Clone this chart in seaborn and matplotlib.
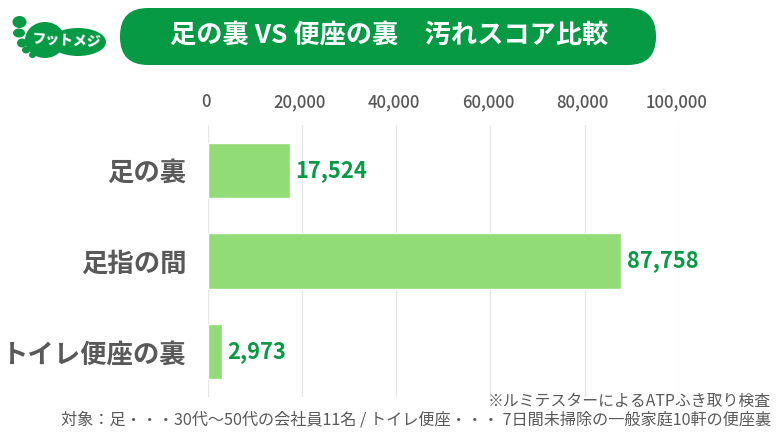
"""足の裏 VS 便座の裏 bar chart, saved to out.png"""
import matplotlib

matplotlib.use("Agg")
import matplotlib.pyplot as plt
from matplotlib.patches import Ellipse, FancyBboxPatch
from matplotlib.transforms import ScaledTranslation
import pandas as pd
import seaborn as sns

categories = ["足の裏", "足指の間", "トイレ便座の裏"]
scores = [17524, 87758, 2973]
x_ticks = [0, 20000, 40000, 60000, 80000, 100000]

GREEN = "#069a45"
BAR = "#92dc77"
GREY = "#595959"
JP = ["Noto Sans CJK JP", "DejaVu Sans"]

sns.set_theme(style="white")
plt.rcParams["font.family"] = JP

W, H = 780, 442
fig = plt.figure(figsize=(W / 100, H / 100), dpi=100)
# plot area in pixels: x 207.5-679, y 125-397
ax = fig.add_axes([207.5 / W, 1 - 397 / H, 471.5 / W, 272 / H])

df = pd.DataFrame({"category": categories, "score": scores})
sns.barplot(data=df, x="score", y="category", color=BAR, saturation=1, width=0.61, ax=ax)

ax.set_xlim(0, 100000)
ax.set_xticks(x_ticks)
ax.set_xticklabels([f"{t:,}" for t in x_ticks], fontsize=12, fontweight="medium", color=GREY)
ax.xaxis.tick_top()
ax.tick_params(axis="x", length=0, pad=10)
ax.tick_params(axis="y", length=0, pad=15)
ax.set_xlabel("")
ax.set_ylabel("")
# tick labels sit a touch left of their gridlines in the original
for lab in ax.get_xticklabels():
    lab.set_transform(lab.get_transform() + ScaledTranslation(-2 / 100, 0, fig.dpi_scale_trans))
for lab in ax.get_yticklabels():
    lab.set_fontsize(19)
    lab.set_fontweight("bold")
    lab.set_color(GREY)
ax.grid(axis="x", color="#e6e6e6", lw=1)
ax.set_axisbelow(True)
sns.despine(ax=ax, left=True, bottom=True, top=True, right=True)

for s, c in zip(scores, ax.patches):
    ax.annotate(f"{s:,}", (s, c.get_y() + c.get_height() / 2), xytext=(4, 0),
                textcoords="offset points", va="center", ha="left",
                fontsize=15.8, fontweight="bold", color=GREEN)

# overlay in pixel coords for the banner, logo and notes
ov = fig.add_axes([0, 0, 1, 1], facecolor="none")
ov.set_xlim(0, W)
ov.set_ylim(H, 0)
ov.axis("off")

ov.add_patch(FancyBboxPatch((120, 8), 536, 57, boxstyle="round,pad=0,rounding_size=28",
                            fc=GREEN, ec="none"))
ov.text(389, 35.5, "足の裏 VS 便座の裏　汚れスコア比較", color="white", fontsize=18.9,
        fontweight="bold", ha="center", va="center")

# footprint logo
ov.add_patch(Ellipse((45, 40), 40, 36, fc=GREEN, ec="none"))
ov.add_patch(Ellipse((78, 42), 56, 28, fc=GREEN, ec="none"))
for x, y, w, h in [(19.5, 22, 14, 12), (19, 33, 12, 9), (22, 43, 10, 9), (26, 50, 8, 7), (32.5, 55, 7, 6)]:
    ov.add_patch(Ellipse((x, y), w, h, fc=GREEN, ec="none"))
ov.text(66, 40, "フットメジ", color="white", fontsize=10, fontweight="black",
        ha="center", va="center", rotation=-3)
ov.text(103, 49, "®", color=GREEN, fontsize=4, ha="center", va="center")

ov.text(771, 401, "※ルミテスターによるATPふき取り検査", color=GREY, fontsize=11.4,
        ha="right", va="center")
ov.text(771, 420, "対象：足・・・30代～50代の会社員11名 / トイレ便座・・・ 7日間未掃除の一般家庭10軒の便座裏",
        color=GREY, fontsize=11.65, ha="right", va="center")

fig.savefig("out.png", dpi=100, facecolor="white")
